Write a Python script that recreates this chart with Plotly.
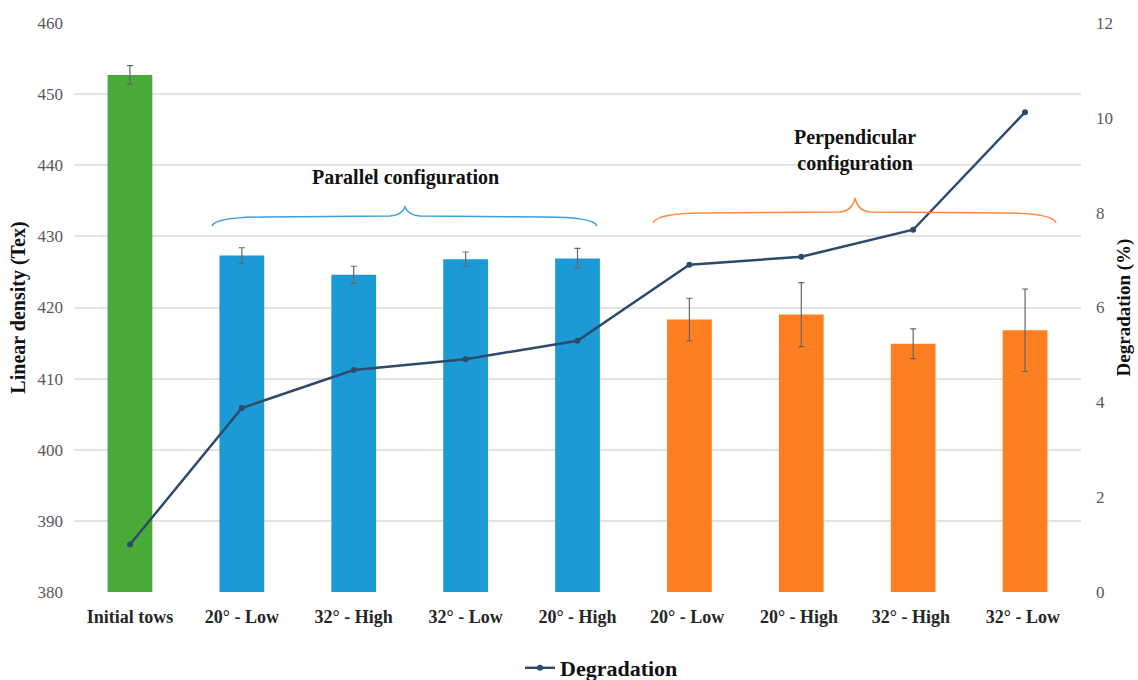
import plotly.graph_objects as go

categories = ["Initial tows", "20° - Low", "32° - High", "32° - Low", "20° - High",
              "20° - Low ", "20° - High ", "32° - High ", "32° - Low "]
density = [452.7, 427.3, 424.6, 426.8, 426.9, 418.3, 419.0, 414.9, 416.8]
density_err = [1.3, 1.1, 1.2, 1.0, 1.4, 3.0, 4.5, 2.1, 5.8]
degradation = [1.0, 3.88, 4.68, 4.91, 5.30, 6.90, 7.07, 7.64, 10.12]
bar_colors = ["#4aaa37"] + ["#1b9ad6"] * 4 + ["#fe7f22"] * 4

FONT = "Liberation Serif"
L, R, T, B = 74, 57, 23, 88
W, H = 1138, 680
PW, PH = W - L - R, H - T - B


def px(x, y):
    return (x - L) / PW, (H - B - y) / PH


def brace(pts):
    s = ""
    for cmd, coords in pts:
        s += cmd + " " + " ".join("%.5f,%.5f" % px(x, y) for x, y in coords) + " "
    return s.strip()


blue_path = brace([
    ("M", [(212, 226)]),
    ("Q", [(216, 217), (265, 217)]),
    ("L", [(390, 216)]),
    ("Q", [(402, 215), (405, 207)]),
    ("Q", [(408, 215), (420, 216)]),
    ("L", [(545, 217)]),
    ("Q", [(594, 217), (597, 226)]),
])
orange_path = brace([
    ("M", [(653, 223)]),
    ("Q", [(657, 213), (705, 213)]),
    ("L", [(840, 212)]),
    ("Q", [(852, 211), (855, 198)]),
    ("Q", [(858, 211), (870, 212)]),
    ("L", [(1005, 213)]),
    ("Q", [(1053, 213), (1056, 223)]),
])

fig = go.Figure()
fig.add_trace(go.Bar(
    x=categories, y=density, marker=dict(color=bar_colors, line=dict(width=0)),
    error_y=dict(type="data", array=density_err, color="#666666", thickness=1.2, width=3),
    width=0.4, showlegend=False,
))
fig.add_trace(go.Scatter(
    x=categories, y=degradation, yaxis="y2", mode="lines+markers", name="Degradation",
    line=dict(color="#2e4a6b", width=2.5), marker=dict(color="#2e4a6b", size=6),
))

fig.update_layout(
    width=W, height=H, margin=dict(l=L, r=R, t=T, b=B, autoexpand=False),
    paper_bgcolor="white", plot_bgcolor="white",
    font=dict(family=FONT, size=14, color="#595959"),
    xaxis=dict(tickfont=dict(family=FONT, size=18, color="#262626", weight="bold"),
               showgrid=False, showline=False, ticks="", ticklabelstandoff=12),
    yaxis=dict(range=[380, 460], dtick=10, showgrid=True, gridcolor="#e3e3e3", gridwidth=1.5,
               zeroline=False, tickfont=dict(family=FONT, size=17, color="#595959"),
               ticklabelstandoff=10,
               title=dict(text="Linear density (Tex)", font=dict(family=FONT, size=20, color="#111111", weight="bold"),
                          standoff=6)),
    yaxis2=dict(range=[0, 12], dtick=2, overlaying="y", side="right", showgrid=False, zeroline=False,
                tickfont=dict(family=FONT, size=17, color="#595959"), ticklabelstandoff=14,
                title=dict(text="Degradation (%)", font=dict(family=FONT, size=19, color="#111111", weight="bold"),
                           standoff=4)),
    showlegend=True,
    legend=dict(orientation="h", x=(520 - L) / PW, xanchor="left", y=px(0, 668)[1], yanchor="middle",
                font=dict(family=FONT, size=22, color="#111111", weight="bold")),
    shapes=[
        dict(type="path", xref="paper", yref="paper", path=blue_path, line=dict(color="#3aa0e0", width=1.5)),
        dict(type="path", xref="paper", yref="paper", path=orange_path, line=dict(color="#fe8a3a", width=1.5)),
    ],
    annotations=[
        dict(text="Parallel configuration", xref="paper", yref="paper",
             x=px(405, 177)[0], y=px(405, 177)[1], xanchor="center", yanchor="middle", showarrow=False,
             font=dict(family=FONT, size=20, color="#111111", weight="bold")),
        dict(text="Perpendicular<br>configuration", xref="paper", yref="paper",
             x=px(855, 150)[0], y=px(855, 150)[1], xanchor="center", yanchor="middle", showarrow=False,
             font=dict(family=FONT, size=20, color="#111111", weight="bold")),
    ],
    bargap=0.6,
)

fig.write_html("out.html", config={"displayModeBar": False},
               post_script="document.body.style.margin='0';document.body.style.overflow='hidden';")
